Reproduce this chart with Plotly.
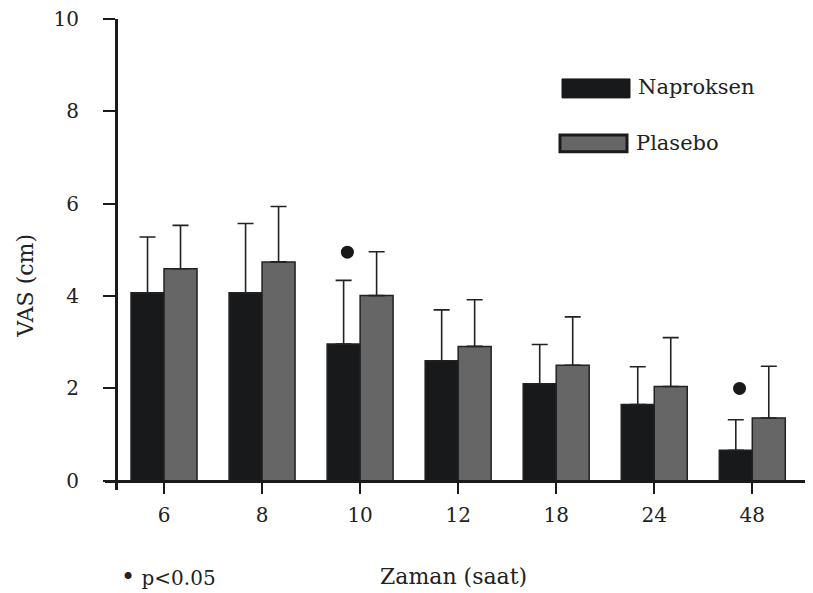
import plotly.graph_objects as go

# ---- data ----
categories = ["6", "8", "10", "12", "18", "24", "48"]
naproksen = [4.07, 4.07, 2.96, 2.60, 2.10, 1.65, 0.66]
naproksen_err = [1.21, 1.50, 1.38, 1.10, 0.85, 0.82, 0.66]
plasebo = [4.59, 4.74, 4.01, 2.91, 2.50, 2.04, 1.36]
plasebo_err = [0.94, 1.20, 0.95, 1.01, 1.05, 1.06, 1.12]
sig_index = [2, 6]          # groups marked p<0.05
sig_y = [4.95, 2.00]
y_ticks = [0, 2, 4, 6, 8, 10]

FONT = "DejaVu Serif"
DARK = "#18191b"
GREY = "#666666"

xpos = list(range(len(categories)))

# page offset of the plot div (body margin)
OFF = 8
# plot-area geometry in screen pixels
SL, SR, ST, SB = 105, 807, 19, 490.5
W, H = 813 - OFF, 593 - OFF
L, R, T, B = SL - OFF, SR - OFF, ST - OFF, SB - OFF


def px(x):
    return (x - SL) / (SR - SL)


def py(y):
    return (SB - y) / (SB - ST)


fig = go.Figure()
fig.add_trace(go.Bar(
    x=xpos, y=naproksen, name="Naproksen",
    marker=dict(color=DARK, line=dict(color="#222222", width=1.5)),
    error_y=dict(type="data", array=naproksen_err, arrayminus=[0] * 7,
                 symmetric=False, color="#222222", thickness=1.6, width=8),
    showlegend=False,
))
fig.add_trace(go.Bar(
    x=xpos, y=plasebo, name="Plasebo",
    marker=dict(color=GREY, line=dict(color="#222222", width=1.5)),
    error_y=dict(type="data", array=plasebo_err, arrayminus=[0] * 7,
                 symmetric=False, color="#222222", thickness=1.6, width=8),
    showlegend=False,
))
fig.add_trace(go.Scatter(
    x=[xpos[i] - 0.13 for i in sig_index], y=sig_y, mode="markers",
    marker=dict(color=DARK, size=13), showlegend=False,
))

# legend drawn as boxes + text
shapes = [
    dict(type="rect", xref="paper", yref="paper",
         x0=px(562), x1=px(630), y0=py(98), y1=py(79),
         fillcolor=DARK, line=dict(color=DARK, width=1)),
    dict(type="rect", xref="paper", yref="paper",
         x0=px(560), x1=px(627), y0=py(152), y1=py(135),
         fillcolor=GREY, line=dict(color="#1a1a1a", width=3)),
]
annotations = [
    dict(text="Naproksen", xref="paper", yref="paper", x=px(636), y=py(87),
         xanchor="left", yanchor="middle", showarrow=False,
         font=dict(family=FONT, size=21, color="#222")),
    dict(text="Plasebo", xref="paper", yref="paper", x=px(634), y=py(143),
         xanchor="left", yanchor="middle", showarrow=False,
         font=dict(family=FONT, size=21, color="#222")),
    dict(text="Zaman (saat)", xref="paper", yref="paper", x=px(453), y=py(577),
         xanchor="center", yanchor="middle", showarrow=False,
         font=dict(family=FONT, size=22, color="#222")),
    dict(text="VAS (cm)", xref="paper", yref="paper", x=px(26), y=py(286),
         xanchor="center", yanchor="middle", showarrow=False, textangle=-90,
         font=dict(family=FONT, size=22, color="#222")),
    dict(text="<span style='font-size:24px'>\u2022</span> p<0.05",
         xref="paper", yref="paper", x=px(119), y=py(578),
         xanchor="left", yanchor="middle", showarrow=False,
         font=dict(family=FONT, size=20, color="#222")),
]

fig.update_layout(
    width=W, height=H,
    margin=dict(l=L, r=W - R, t=T, b=H - B, autoexpand=False),
    paper_bgcolor="white", plot_bgcolor="white",
    barmode="group", bargap=0.327, bargroupgap=0,
    shapes=shapes, annotations=annotations,
    xaxis=dict(
        range=[-0.602, 6.558], tickvals=xpos, ticktext=categories,
        anchor="free", position=0.2 / 10.2,
        showline=True, linecolor="#1a1a1a", linewidth=3,
        ticks="outside", ticklen=11, tickwidth=2, tickcolor="#1a1a1a",
        showgrid=False, zeroline=False,
        tickfont=dict(family=FONT, size=20, color="#222"),
        ticklabelstandoff=4,
    ),
    yaxis=dict(
        range=[-0.2, 10], tickvals=y_ticks,
        anchor="free", position=px(116),
        showline=True, linecolor="#1a1a1a", linewidth=3,
        ticks="outside", ticklen=12, tickwidth=2, tickcolor="#1a1a1a",
        showgrid=False, zeroline=False,
        tickfont=dict(family=FONT, size=20, color="#222"),
        ticklabelstandoff=20, ticklabeloverflow="allow",
    ),
)

fig.write_html("out.html")
